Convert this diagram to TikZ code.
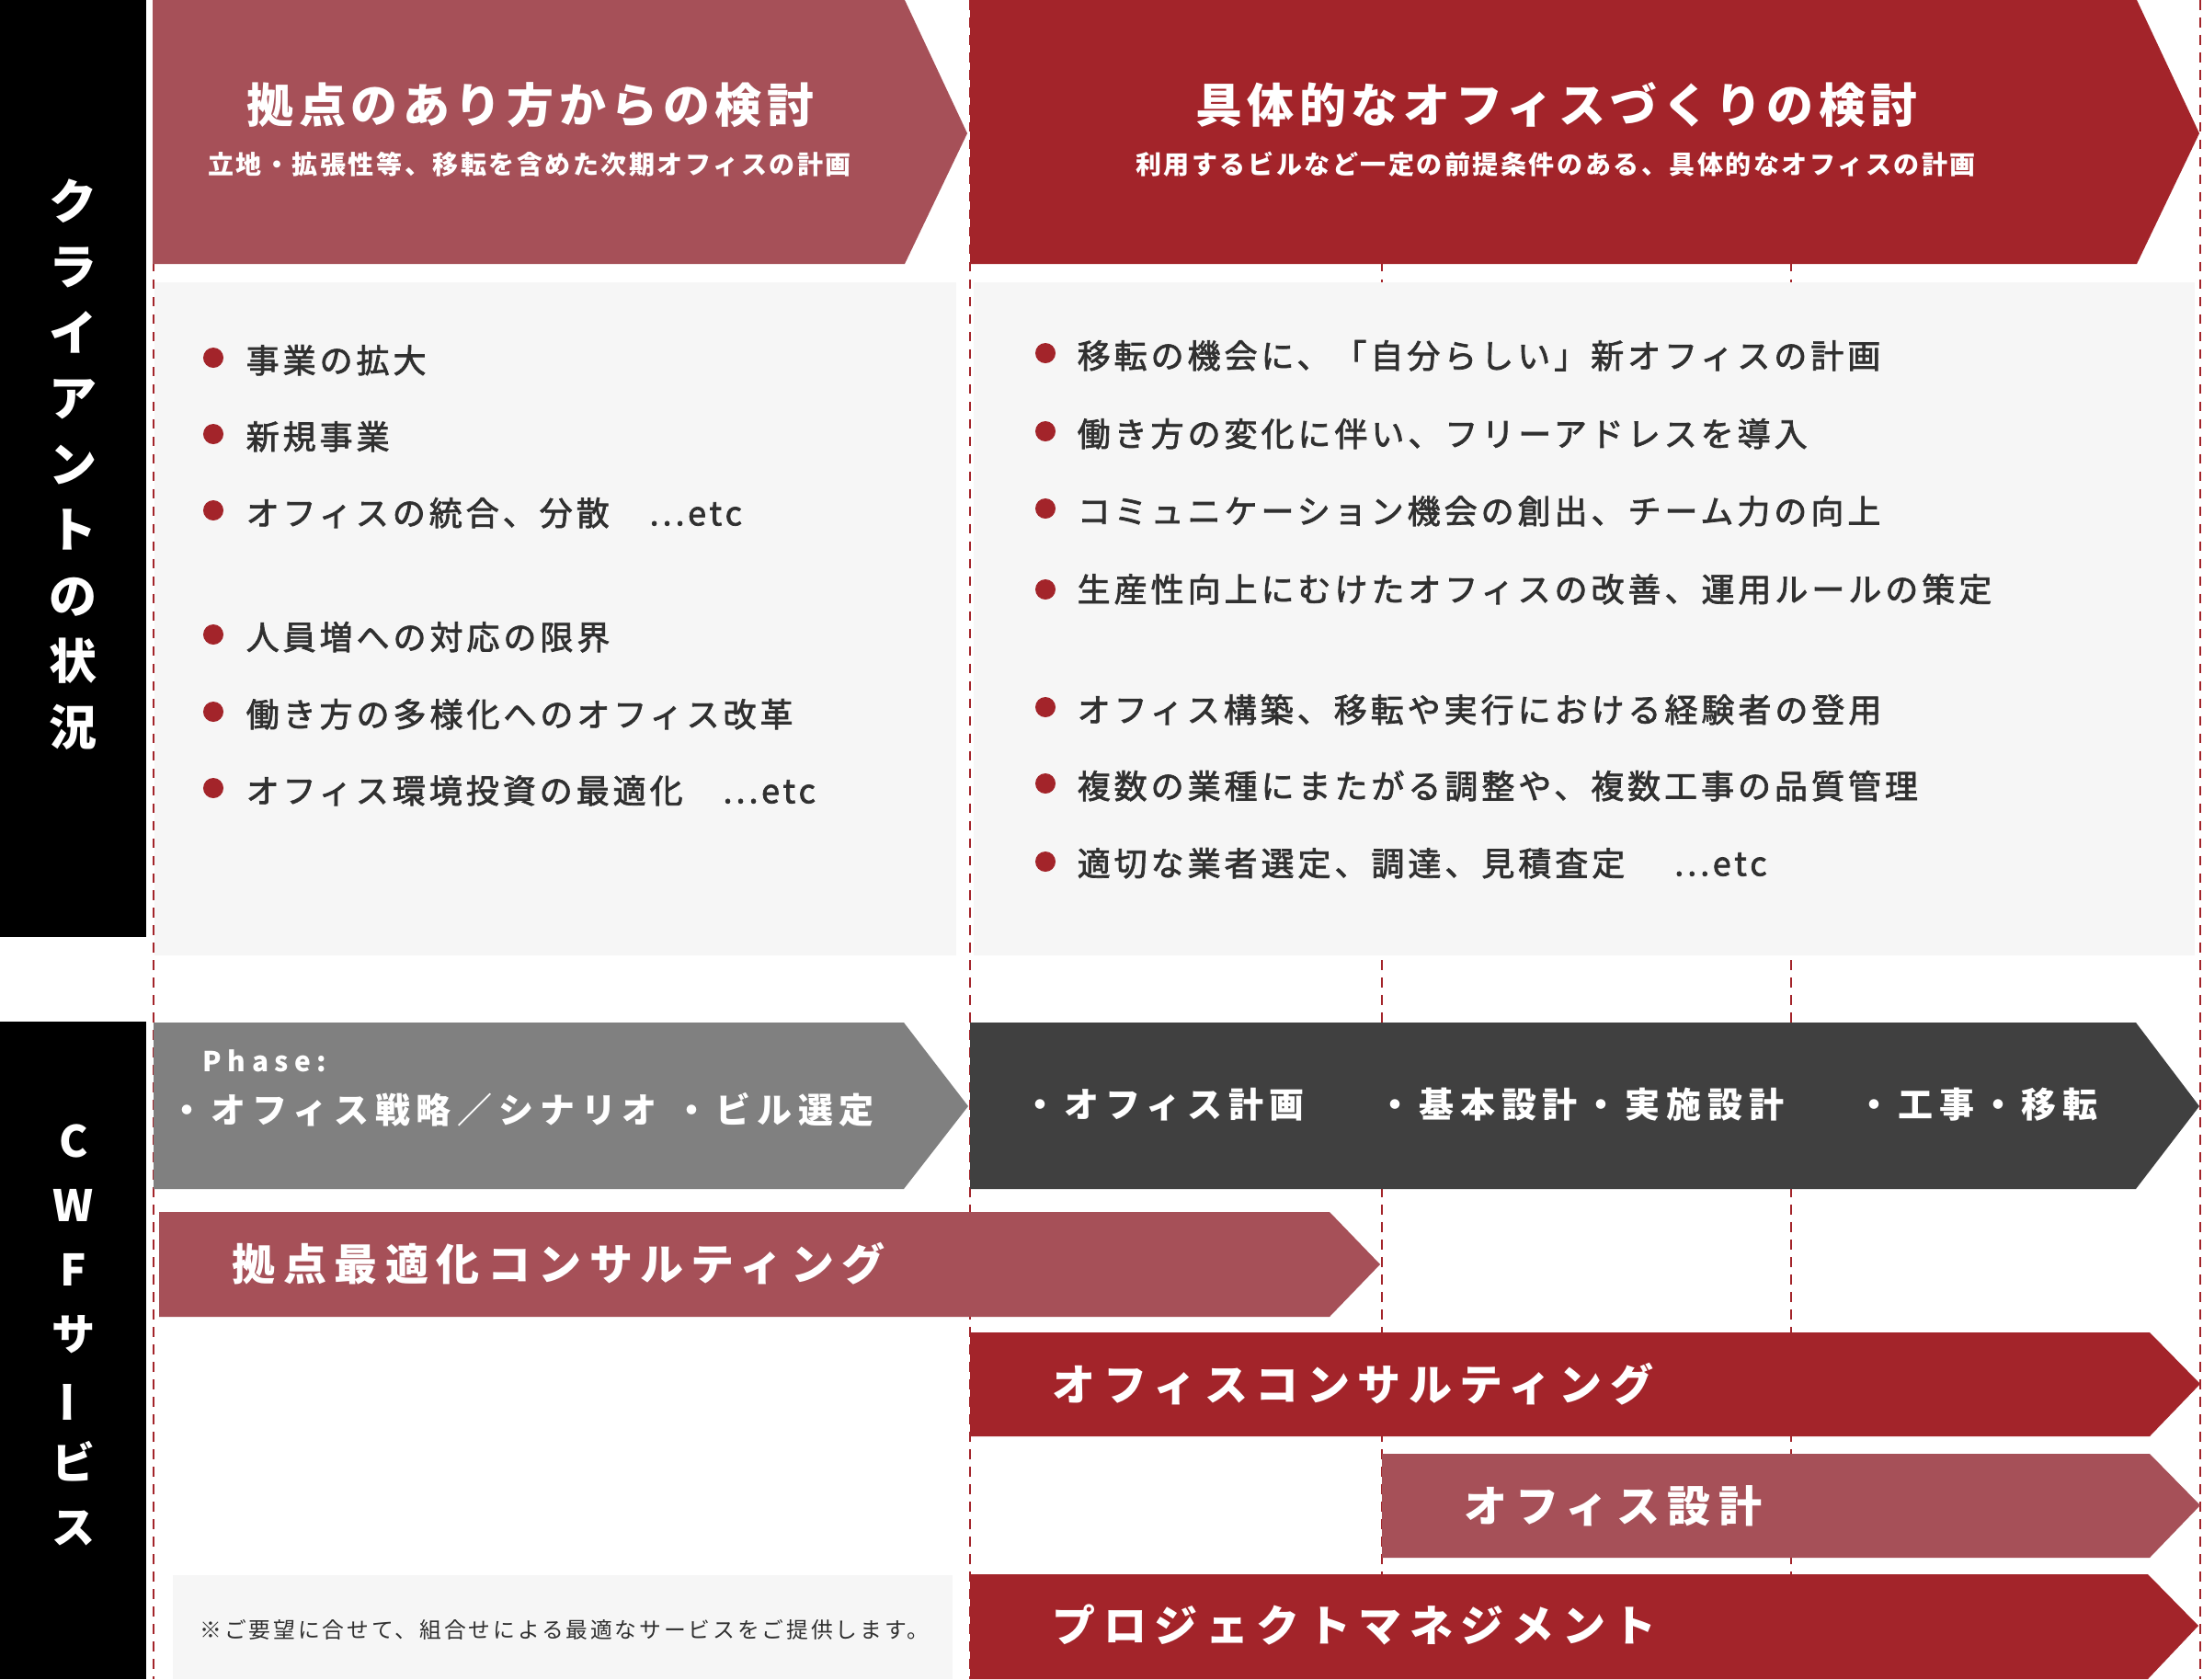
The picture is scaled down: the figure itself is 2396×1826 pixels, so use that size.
\documentclass[tikz,border=0pt]{standalone}
\usepackage{fontspec}
\setmainfont{Noto Sans CJK JP}
\definecolor{mauve}{HTML}{A65058}
\definecolor{cwred}{HTML}{A3242A}
\definecolor{phgray}{HTML}{808080}
\definecolor{dkgray}{HTML}{404040}
\definecolor{panel}{HTML}{F6F6F6}
\definecolor{txt}{HTML}{303030}
\tikzset{
 dashline/.style={draw=cwred, line width=0.6pt, dash pattern=on 3pt off 2.4pt},
 base/.style={inner sep=0pt, text height=0.83em, text depth=0.07em},
 ttl/.style={base, text=white, font=\bfseries\fontsize{14.5pt}{17pt}\selectfont\addfontfeatures{LetterSpace=11}},
 subt/.style={base, text=white, font=\bfseries\fontsize{7.97pt}{9pt}\selectfont\addfontfeatures{LetterSpace=9}},
 litem/.style={base, anchor=west, text=txt, font=\fontsize{10.24pt}{12pt}\selectfont\addfontfeatures{LetterSpace=11,FakeBold=2}},
 bul/.style={circle, fill=cwred, inner sep=0pt, minimum size=0.22cm},
 phasetx/.style={base, anchor=west, text=white, font=\bfseries\fontsize{10.8pt}{12pt}\selectfont\addfontfeatures{LetterSpace=18}},
 phaselbl/.style={inner sep=0pt, anchor=base west, text=white, font=\bfseries\fontsize{8.5pt}{10pt}\selectfont\addfontfeatures{LetterSpace=22}},
 svc/.style={base, anchor=west, text=white, font=\bfseries\fontsize{13.37pt}{15pt}\selectfont\addfontfeatures{LetterSpace=18}},
 notetx/.style={base, text=txt, font=\fontsize{6.77pt}{8pt}\selectfont\addfontfeatures{LetterSpace=12}},
 vtxt/.style={text=white, align=center, inner sep=0pt},
}
\begin{document}
\begin{tikzpicture}[x=0.01cm,y=-0.01cm]
\useasboundingbox (0,0) rectangle (2396,1826);
\fill[white] (0,0) rectangle (2396,1826);
% dashed guide lines
\foreach \gx in {167,1055,1503,1948,2393} \draw[dashline] (\gx,0) -- (\gx,1826);
% black side bars
\fill[black] (0,0) rectangle (159,1019);
\fill[black] (0,1111) rectangle (159,1826);
% top arrows
\fill[mauve] (166,0) -- (984,0) -- (1052,145) -- (984,287) -- (166,287) -- cycle;
\fill[cwred] (1055,0) -- (2324,0) -- (2392,145) -- (2324,287) -- (1055,287) -- cycle;
% panels
\fill[panel] (168,307) rectangle (1040,1039);
\fill[panel] (1059,307) rectangle (2387,1039);
% phase arrows
\fill[phgray] (167,1112) -- (983,1112) -- (1053,1203) -- (983,1293) -- (167,1293) -- cycle;
\fill[dkgray] (1055,1112) -- (2323,1112) -- (2392,1203) -- (2323,1293) -- (1055,1293) -- cycle;
% service arrows
\fill[mauve] (173,1318) -- (1446,1318) -- (1501,1375) -- (1446,1432) -- (173,1432) -- cycle;
\fill[cwred] (1055,1449) -- (2338,1449) -- (2393,1505) -- (2338,1562) -- (1055,1562) -- cycle;
\fill[mauve] (1503,1581) -- (2338,1581) -- (2393,1637) -- (2338,1694) -- (1503,1694) -- cycle;
\fill[cwred] (1055,1712) -- (2336,1712) -- (2391,1768) -- (2336,1826) -- (1055,1826) -- cycle;
\fill[panel] (188,1713) rectangle (1036,1826);

% vertical labels
\node[vtxt, font=\bfseries\fontsize{14.8pt}{20.34pt}\selectfont] (vl1) at (80,505)
 {ク\\ラ\\イ\\ア\\ン\\ト\\の\\状\\況};
\node[vtxt, font=\bfseries\fontsize{13.4pt}{19.9pt}\selectfont] (vl2) at (80,1452)
 {C\\W\\F\\サ\\\raisebox{0.05em}{\rotatebox[origin=c]{90}{ー}}\\ビ\\ス};

% titles
\node[ttl] (t1) at (577,120) {拠点のあり方からの検討};
\node[subt] (s1) at (576,176) {立地・拡張性等、移転を含めた次期オフィスの計画};
\node[ttl] (t2) at (1693,120) {具体的なオフィスづくりの検討};
\node[subt] (s2) at (1692,176) {利用するビルなど一定の前提条件のある、具体的なオフィスの計画};

% left list
\node[bul] (lb1) at (232,389) {}; \node[litem] (l1) at (267,392) {事業の拡大};
\node[bul] (lb2) at (232,472) {}; \node[litem] (l2) at (267,475) {新規事業};
\node[bul] (lb3) at (232,555) {}; \node[litem] (l3) at (267,558) {オフィスの統合、分散　...etc};
\node[bul] (lb4) at (232,690) {}; \node[litem] (l4) at (267,693) {人員増への対応の限界};
\node[bul] (lb5) at (232,774) {}; \node[litem] (l5) at (267,777) {働き方の多様化へのオフィス改革};
\node[bul] (lb6) at (232,857) {}; \node[litem] (l6) at (267,860) {オフィス環境投資の最適化　...etc};

% right list
\node[bul] (rb1) at (1137,384) {}; \node[litem] (r1) at (1171,387) {移転の機会に、「自分らしい」新オフィスの計画};
\node[bul] (rb2) at (1137,469) {}; \node[litem] (r2) at (1171,472) {働き方の変化に伴い、フリーアドレスを導入};
\node[bul] (rb3) at (1137,553) {}; \node[litem] (r3) at (1171,556) {コミュニケーション機会の創出、チーム力の向上};
\node[bul] (rb4) at (1137,641) {}; \node[litem] (r4) at (1171,641) {生産性向上にむけたオフィスの改善、運用ルールの策定};
\node[bul] (rb5) at (1137,769) {}; \node[litem] (r5) at (1171,772) {オフィス構築、移転や実行における経験者の登用};
\node[bul] (rb6) at (1137,852) {}; \node[litem] (r6) at (1171,855) {複数の業種にまたがる調整や、複数工事の品質管理};
\node[bul] (rb7) at (1137,937) {}; \node[litem] (r7) at (1171,939) {適切な業者選定、調達、見積査定　\hspace{0.14cm}...etc};

% phase row
\node[phaselbl] (ph) at (220,1165) {Phase:};
\node[phasetx] (p1) at (184,1208) {・オフィス戦略／シナリオ};
\node[phasetx] (p2) at (733,1208) {・ビル選定};
\node[phasetx] (p3) at (1112,1202) {・オフィス計画};
\node[phasetx] (p4) at (1498,1202) {・基本設計・実施設計};
\node[phasetx] (p5) at (2019,1202) {・工事・移転};

% services
\node[svc] (v1) at (252,1379) {拠点最適化コンサルティング};
\node[svc] (v2) at (1144,1510) {オフィスコンサルティング};
\node[svc] (v3) at (1592,1642) {オフィス設計};
\node[svc] (v4) at (1144,1772) {プロジェクトマネジメント};

\node[notetx] (nt) at (614,1768) {※ご要望に合せて、組合せによる最適なサービスをご提供します。};
\end{tikzpicture}
\end{document}
